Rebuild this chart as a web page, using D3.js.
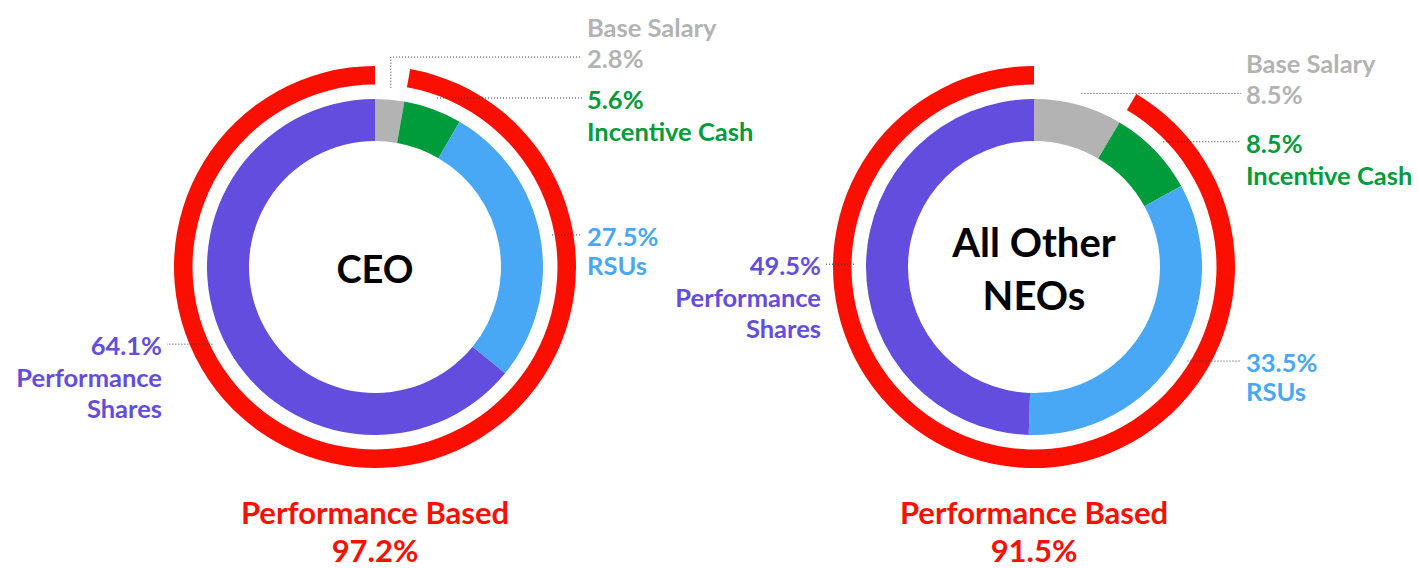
<!DOCTYPE html>
<html>
<head>
<meta charset="utf-8">
<script src="https://cdn.jsdelivr.net/npm/d3@7"></script>
<style>
  body { margin: 0; background: #fff; }
  text { font-family: Lato, "Open Sans", sans-serif; font-weight: 700; }
</style>
</head>
<body>
<div id="chart"></div>
<script>
// chart data
var groups = ["CEO", "All Other NEOs"];
var categories = ["Base Salary", "Incentive Cash", "RSUs", "Performance Shares"];
var ceoValues = [2.8, 5.6, 27.5, 64.1];
var neoValues = [8.5, 8.5, 33.5, 49.5];
var perfBased = [97.2, 91.5];
var perfLabel = "Performance Based";

var colors = ["#b3b3b3", "#009c3b", "#49a8f6", "#634ddf"];
var red = "#fa0f00";

var svgWidth = 1418;
var svgHeight = 568;
var centers = [[375, 267], [1034, 267]];

var svg = d3.select("#chart")
  .append("svg")
  .attr("width", svgWidth)
  .attr("height", svgHeight);

var angle = d3.scaleLinear().domain([0, 100]).range([0, 2 * Math.PI]);
var fmt = d3.format(".1f");

var pie = d3.pie().sort(null).value(d => d);
var arc = d3.arc().innerRadius(126).outerRadius(168);
var ringArc = d3.arc().innerRadius(182.5).outerRadius(201);

function drawDonut(gi, values) {
  var cx = centers[gi][0], cy = centers[gi][1];
  var g = svg.append("g").attr("transform", `translate(${cx}, ${cy})`);

  // red ring over the performance based part
  g.append("path")
    .attr("d", ringArc({startAngle: angle(100 - perfBased[gi]), endAngle: angle(100)}))
    .attr("fill", red);

  var arcs = pie(values);
  g.selectAll("path.slice")
    .data(arcs)
    .enter()
    .append("path")
    .attr("class", "slice")
    .attr("d", arc)
    .attr("fill", (d, i) => colors[i]);

  // center title
  var words = groups[gi] == "CEO" ? ["CEO"] : ["All Other", "NEOs"];
  if (words.length == 1) {
    g.append("text").attr("text-anchor", "middle").attr("y", 16)
      .attr("font-size", 38).attr("fill", "#000").text(words[0]);
  } else {
    g.append("text").attr("text-anchor", "middle").attr("y", -10)
      .attr("font-size", 40).attr("fill", "#000").text(words[0]);
    g.append("text").attr("text-anchor", "middle").attr("y", 43)
      .attr("font-size", 40).attr("fill", "#000").text(words[1]);
  }

  // labels
  var labs = arcs.map(function(d, i) {
    var a = (d.startAngle + d.endAngle) / 2;
    var x0 = 180 * Math.sin(a), y0 = -180 * Math.cos(a);
    return {i: i, a: a, x0: x0, y0: y0, y: y0, right: x0 > 0, v: d.data};
  });
  // push the base salary label up if it sits too close to the next one
  var rights = labs.filter(d => d.right).sort((a, b) => b.y - a.y);
  for (var k = 1; k < rights.length; k++) {
    if (rights[k].y > rights[k - 1].y - 41) rights[k].y = rights[k - 1].y - 41;
  }

  labs.forEach(function(d) {
    var lx = d.right ? 207 : -208;
    var pts = [[d.x0, d.y0]];
    if (Math.abs(d.y - d.y0) > 0.5) pts.push([d.x0, d.y]);
    pts.push([lx, d.y]);
    g.append("path")
      .attr("d", d3.line()(pts))
      .attr("fill", "none")
      .attr("stroke", "#333")
      .attr("stroke-width", 1)
      .attr("stroke-dasharray", "1,2");

    var tx = d.right ? 212 : -213;
    var anchor = d.right ? "start" : "end";
    var base = d.y + 11;
    var pct = fmt(d.v) + "%";
    var lines;
    if (d.i == 0) lines = [[categories[0], base - 31], [pct, base]];
    else if (d.i == 3) lines = [[pct, base], ["Performance", base + 32], ["Shares", base + 63]];
    else lines = [[pct, base], [categories[d.i], base + (d.i == 2 ? 29 : 32)]];
    lines.forEach(function(l) {
      g.append("text")
        .attr("x", tx)
        .attr("y", l[1])
        .attr("text-anchor", anchor)
        .attr("font-size", 25.5)
        .attr("fill", colors[d.i])
        .text(l[0]);
    });
  });

  // bottom caption
  svg.append("text").attr("x", cx).attr("y", 524).attr("text-anchor", "middle")
    .attr("font-size", 31).attr("fill", red).text(perfLabel);
  svg.append("text").attr("x", cx).attr("y", 562).attr("text-anchor", "middle")
    .attr("font-size", 31).attr("fill", red).text(fmt(perfBased[gi]) + "%");
}

drawDonut(0, ceoValues);
drawDonut(1, neoValues);
</script>
</body>
</html>
